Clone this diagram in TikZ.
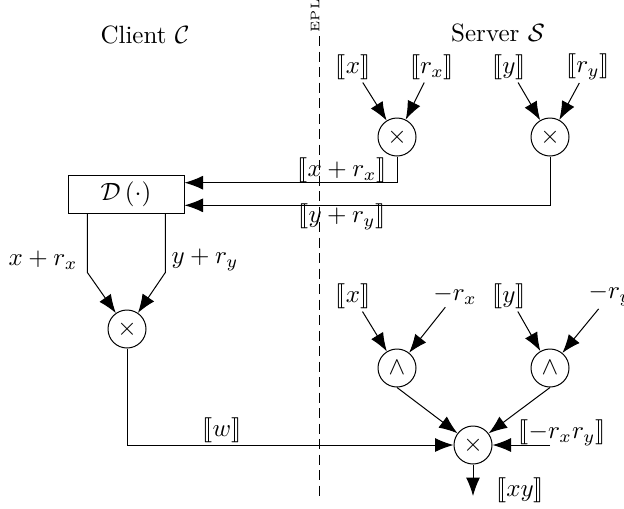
\documentclass[tikz,border=0pt]{standalone}
\usepackage{stmaryrd}
\usetikzlibrary{arrows.meta,calc}
\begin{document}
\begin{tikzpicture}[x=0.4pt,y=-0.4pt,
  arr/.style={-{Latex[length=7.4pt,width=5.6pt]}},
  op/.style={circle,draw,minimum size=15.2pt,inner sep=0pt},
  lab/.style={inner sep=1pt}]
\useasboundingbox (0,0) rectangle (624,508);
% titles and EPL line
\node (client) at (145,35) {Client $\mathcal{C}$};
\node (server) at (498,33) {Server $\mathcal{S}$};
\node[rotate=90,font=\tiny,inner sep=0pt] (epl) at (315,16) {EPL};
\coordinate (et) at (319,36);
\coordinate (eb) at (319,496);
\draw[dash pattern=on 4pt off 2.2pt] (et) -- (eb);
% top server part
\node[lab] (x1) at (353,67) {$\llbracket x\rrbracket$};
\node[lab] (rx1) at (432,67) {$\llbracket r_x\rrbracket$};
\node[lab] (y1) at (509,67) {$\llbracket y\rrbracket$};
\node[lab] (ry1) at (588,67) {$\llbracket r_y\rrbracket$};
\node[op] (m1) at (397,137) {$\times$};
\node[op] (m2) at (550,137) {$\times$};
\draw[arr] (x1) -- (m1);
\draw[arr] (rx1) -- (m1);
\draw[arr] (y1) -- (m2);
\draw[arr] (ry1) -- (m2);
% decryption box
\node[draw,minimum width=46.4pt,minimum height=15.2pt,inner sep=0pt] (D) at (126,194) {$\mathcal{D}\left(\cdot\right)$};
\draw[arr] (m1.south) |- ($(D.north east)!0.21!(D.south east)$);
\draw[arr] (m2.south) |- ($(D.north east)!0.79!(D.south east)$);
\node[lab] (lxr) at (342,170) {$\llbracket x+r_x\rrbracket$};
\node[lab] (lyr) at (342,217) {$\llbracket y+r_y\rrbracket$};
% client multiplication
\node[op] (m3) at (127,329) {$\times$};
\draw[arr] ($(D.south west)!0.17!(D.south east)$) -- ++(0,59) -- (m3);
\draw[arr] ($(D.south west)!0.836!(D.south east)$) -- ++(0,59) -- (m3);
\node[lab] (lx) at (43,260) {$x+r_x$};
\node[lab] (ly) at (205,260) {$y+r_y$};
% lower server part
\node[lab] (x2) at (353,296) {$\llbracket x\rrbracket$};
\node[lab] (rx2) at (455,295) {$-r_x$};
\node[lab] (y2) at (509,296) {$\llbracket y\rrbracket$};
\node[lab] (ry2) at (610,295) {$-r_y$};
\node[op] (w1) at (397,368) {$\wedge$};
\node[op] (w2) at (550,368) {$\wedge$};
\draw[arr] (x2) -- (w1);
\draw[arr] (rx2) -- (w1);
\draw[arr] (y2) -- (w2);
\draw[arr] (ry2) -- (w2);
\node[op] (m4) at (473,445) {$\times$};
\draw[arr] (w1.south) -- (m4);
\draw[arr] (w2.south) -- (m4);
\draw[arr] (m3) |- (m4);
\node[lab] (lw) at (222,430) {$\llbracket w\rrbracket$};
\node[lab] (lr) at (562,433) {$\llbracket -r_xr_y\rrbracket$};
\coordinate (rin) at (550,445);
\draw[arr] (rin) -- (m4);
\coordinate (out) at (473,496);
\draw[arr] (m4) -- (out);
\node[lab] (lxy) at (520,490) {$\llbracket xy\rrbracket$};
\end{tikzpicture}
\end{document}
